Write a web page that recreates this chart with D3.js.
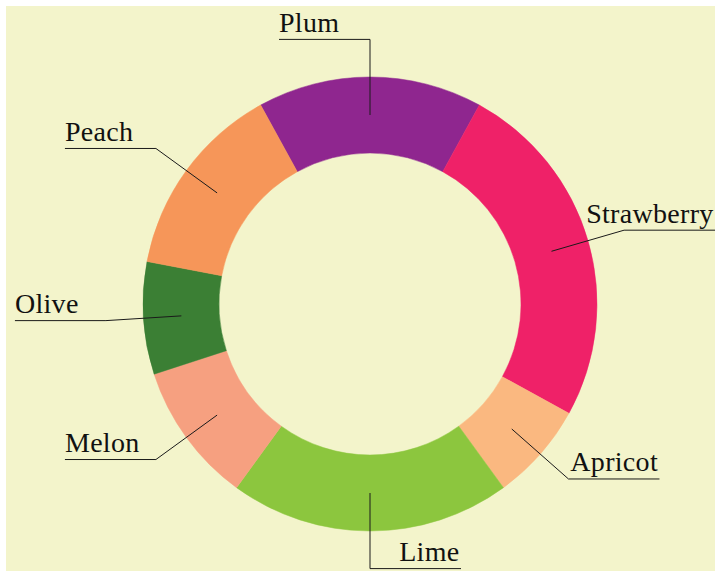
<!DOCTYPE html>
<html>
<head>
<meta charset="utf-8">
<script src="https://cdn.jsdelivr.net/npm/d3@7"></script>
<style>
  html, body { margin: 0; padding: 0; background: #ffffff; }
  svg { display: block; }
</style>
</head>
<body>
<svg id="chart" width="715" height="571"></svg>
<script>
// Fruit shares (percent), listed clockwise starting from the top slice
const categories = ["Plum", "Strawberry", "Apricot", "Lime", "Melon", "Olive", "Peach"];
const values = [16, 25, 7, 20, 10, 8, 14];
const colors = ["#8f268f", "#ef2168", "#fab880", "#8cc63e", "#f6a080", "#3b7f34", "#f69659"];

const width = 715, height = 571;
const cx = 370, cy = 304;
const outerR = 227, innerR = 151;
const midR = (outerR + innerR) / 2;
const elbowR = midR * 1.4;
const tailLen = 91;
const textGap = 7.5;

const svg = d3.select("#chart");

svg.append("rect")
  .attr("x", 6).attr("y", 6)
  .attr("width", width - 6).attr("height", height - 6)
  .attr("fill", "#f3f4cb");

const total = d3.sum(values);
// first slice is centred on 12 o'clock
const start = -Math.PI * values[0] / total;

const pie = d3.pie().sort(null).value(d => d)
  .startAngle(start).endAngle(start + 2 * Math.PI);

const arcs = pie(values);
const arc = d3.arc().innerRadius(innerR).outerRadius(outerR);

const g = svg.append("g").attr("transform", `translate(${cx},${cy})`);

g.selectAll("path.slice")
  .data(arcs)
  .join("path")
  .attr("class", "slice")
  .attr("d", arc)
  .attr("fill", (d, i) => colors[i])
  .attr("stroke", (d, i) => colors[i])
  .attr("stroke-width", 0.5);

const pt = (a, r) => [r * Math.sin(a), -r * Math.cos(a)];

arcs.forEach((d, i) => {
  const mid = (d.startAngle + d.endAngle) / 2;
  const right = mid > 1e-3 && mid <= Math.PI + 1e-3;
  const p0 = pt(mid, midR);
  const p1 = pt(mid, elbowR);
  const p2 = [p1[0] + (right ? tailLen : -tailLen), p1[1]];

  g.append("polyline")
    .attr("points", [p0, p1, p2].map(p => p.join(",")).join(" "))
    .attr("fill", "none")
    .attr("stroke", "#1a1a1a")
    .attr("stroke-width", 1);

  g.append("text")
    .attr("x", right ? p2[0] - 1.5 : p2[0])
    .attr("y", p2[1] - textGap)
    .attr("text-anchor", right ? "end" : "start")
    .attr("font-family", "'Liberation Serif', 'Times New Roman', serif")
    .attr("font-size", 28)
    .attr("letter-spacing", 0.3)
    .attr("fill", "#111111")
    .text(categories[i]);
});
</script>
</body>
</html>
